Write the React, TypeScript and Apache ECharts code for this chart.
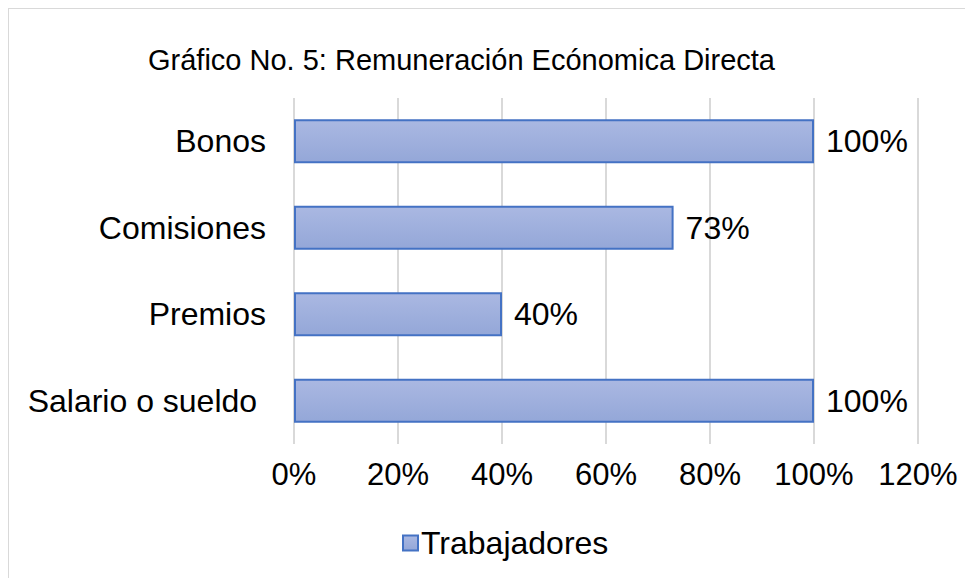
import React, { useEffect, useRef } from "react";
import * as echarts from "echarts";

const categories = ["Salario o sueldo ", "Premios", "Comisiones", "Bonos"];
const values = [1.0, 0.4, 0.73, 1.0];
const seriesName = "Trabajadores";
const titleText = "Gráfico No. 5: Remuneración Ecónomica Directa";

export default function App() {
  const ref = useRef<HTMLDivElement>(null);
  useEffect(() => {
    if (!ref.current) return;
    const chart = echarts.init(ref.current, undefined, { renderer: "svg" });
    const font = "'Liberation Sans', Arial, sans-serif";
    chart.setOption({
      animation: false,
      title: {
        text: titleText,
        left: 134,
        top: 31,
        textStyle: { fontFamily: font, fontSize: 29, fontWeight: "normal", color: "#000" },
      },
      legend: {
        data: [seriesName],
        left: 388,
        top: 513,
        itemWidth: 15,
        itemHeight: 15,
        itemGap: 6,
        icon: "rect",
        textStyle: { fontFamily: font, fontSize: 32, color: "#000", padding: [0, 0, 0, -2] },
      },
      grid: { left: 285, top: 89, width: 624, height: 346 },
      xAxis: {
        type: "value",
        min: 0,
        max: 1.2,
        interval: 0.2,
        axisLine: { show: false },
        axisTick: { show: false },
        splitLine: { show: true, lineStyle: { color: "#d9d9d9", width: 2 } },
        axisLabel: {
          margin: 15,
          fontFamily: font,
          fontSize: 31,
          color: "#000",
          formatter: (v: number) => Math.round(v * 100) + "%",
        },
      },
      yAxis: {
        type: "category",
        data: categories,
        axisLine: { show: false },
        axisTick: { show: false },
        axisLabel: { margin: 28, fontFamily: font, fontSize: 32, color: "#000" },
      },
      series: [
        {
          name: seriesName,
          type: "bar",
          data: values,
          barWidth: 44,
          itemStyle: {
            color: new echarts.graphic.LinearGradient(0, 0, 0, 1, [
              { offset: 0, color: "#aab8e2" },
              { offset: 1, color: "#94a7d8" },
            ]),
            borderColor: "#4472c4",
            borderWidth: 2,
          },
          label: {
            show: true,
            position: "right",
            distance: 12,
            fontFamily: font,
            fontSize: 32,
            color: "#000",
            formatter: (p: any) => Math.round(p.value * 100) + "%",
          },
        },
      ],
    });
    return () => chart.dispose();
  }, []);
  return (
    <div
      ref={ref}
      style={{
        width: 965,
        height: 570,
        borderLeft: "1px solid #d9d9d9",
        borderTop: "1px solid #d9d9d9",
        boxSizing: "border-box",
      }}
    />
  );
}
